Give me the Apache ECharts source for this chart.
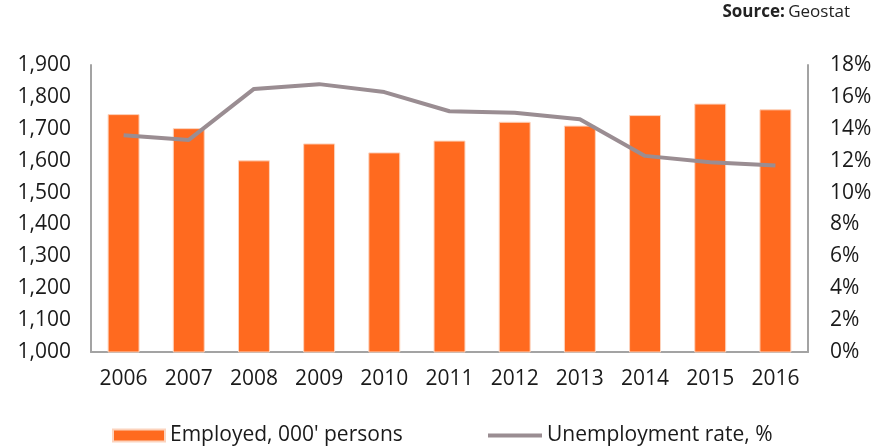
<!DOCTYPE html>
<html>
<head>
<meta charset="utf-8">
<script src="https://cdn.jsdelivr.net/npm/echarts@6/dist/echarts.min.js"></script>
<style>
  html, body { margin: 0; padding: 0; background: #fff; }
  #main { width: 876px; height: 447px; }
</style>
</head>
<body>
<div id="main"></div>
<script>
var years = ['2006', '2007', '2008', '2009', '2010', '2011', '2012', '2013', '2014', '2015', '2016'];
var employed = [1746, 1702, 1601, 1654, 1626, 1663, 1722, 1710, 1743, 1779, 1761];
var unemployment = [13.6, 13.3, 16.5, 16.8, 16.3, 15.1, 15.0, 14.6, 12.3, 11.9, 11.7];

var font = 'Open Sans';
var textColor = '#1a1a1a';
var axisColor = '#a3a3a3';
var barColor = '#ff6a1f';
var lineColor = '#9a8d92';

var option = {
    animation: false,
    grid: {
        left: 91,
        right: 68,
        top: 65,
        bottom: 95
    },
    graphic: [{
        type: 'text',
        right: 26,
        top: 4,
        style: {
            text: '{b|Source:} {r|Geostat}',
            rich: {
                b: { fontFamily: font, fontWeight: 'bold', fontSize: 17, fill: '#222' },
                r: { fontFamily: font, fontSize: 17, fill: '#222' }
            }
        }
    }],
    legend: [{
        top: 420,
        left: 107,
        itemWidth: 52,
        itemHeight: 12,
        icon: 'rect',
        textStyle: { fontFamily: font, fontSize: 21, color: textColor },
        data: ["Employed, 000' persons"]
    }, {
        top: 420,
        left: 483,
        itemWidth: 54,
        itemHeight: 4,
        icon: 'rect',
        textStyle: { fontFamily: font, fontSize: 21, color: textColor },
        data: ['Unemployment rate, %']
    }],
    xAxis: {
        type: 'category',
        data: years,
        axisLine: { lineStyle: { color: axisColor, width: 2 } },
        axisTick: { show: false },
        axisLabel: { fontFamily: font, fontSize: 21, color: textColor, margin: 17 }
    },
    yAxis: [{
        type: 'value',
        min: 1000,
        max: 1900,
        interval: 100,
        axisLine: { show: true, lineStyle: { color: axisColor, width: 2 } },
        axisTick: { show: false },
        splitLine: { show: false },
        axisLabel: {
            fontFamily: font, fontSize: 21, color: textColor, margin: 20,
            formatter: function (v) { return v.toLocaleString('en-US'); }
        }
    }, {
        type: 'value',
        min: 0,
        max: 18,
        interval: 2,
        position: 'right',
        axisLine: { show: true, lineStyle: { color: axisColor, width: 2 } },
        axisTick: { show: false },
        splitLine: { show: false },
        axisLabel: {
            fontFamily: font, fontSize: 21, color: textColor, margin: 22,
            formatter: '{value}%'
        }
    }],
    series: [{
        name: "Employed, 000' persons",
        type: 'bar',
        data: employed,
        barWidth: '49%',
        itemStyle: { color: barColor, borderColor: '#fcd3bd', borderWidth: 1 }
    }, {
        name: 'Unemployment rate, %',
        type: 'line',
        yAxisIndex: 1,
        data: unemployment,
        symbol: 'none',
        lineStyle: { color: lineColor, width: 4 },
        itemStyle: { color: lineColor }
    }]
};

echarts.init(document.getElementById('main')).setOption(option);
</script>
</body>
</html>
